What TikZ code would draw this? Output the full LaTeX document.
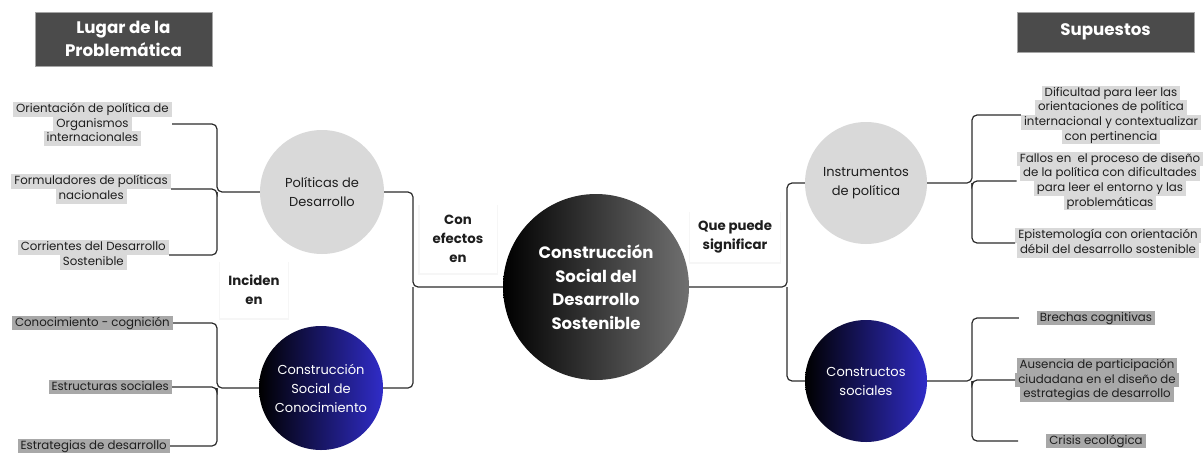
\documentclass[tikz,border=0pt]{standalone}
\usepackage{fontspec}
\setmainfont{Poppins}
\usetikzlibrary{shadows}
\definecolor{hdr}{HTML}{4B4B4B}
\definecolor{lg}{HTML}{D9D9D9}
\definecolor{dg}{HTML}{A8A8A8}
\definecolor{ln}{HTML}{2B2B2B}
\definecolor{blu}{RGB}{48,44,200}
\definecolor{cg}{HTML}{707070}
\definecolor{tx}{HTML}{1E1E1E}
\setlength{\fboxsep}{0pt}
\newcommand{\lstrut}{\rule[-4.1pt]{0pt}{14.6pt}}
\newcommand{\hlL}[1]{\colorbox{lg}{\hspace{3pt}\lstrut #1\hspace{3pt}}}
\newcommand{\hlD}[1]{\colorbox{dg}{\hspace{3pt}\lstrut #1\hspace{3pt}}}
\tikzset{
  hdrbox/.style={fill=hdr, draw=hdr!50, text=white, font=\fontsize{16.7}{23}\selectfont\bfseries, align=center, minimum width=177pt, inner sep=0pt},
  leaf/.style={inner sep=0pt, align=center, font=\fontsize{11.8}{14.6}\selectfont, text=tx},
  lcirc/.style={circle, fill=lg, inner sep=0pt, minimum size=124pt, align=center, font=\fontsize{13}{19}\selectfont, text=tx},
  bcirc/.style={circle, left color=black, right color=blu, inner sep=0pt, minimum size=124pt, align=center, font=\fontsize{13}{19}\selectfont, text=white},
  ccirc/.style={circle, left color=black, right color=cg, inner sep=0pt, minimum size=186pt, align=center, font=\fontsize{16.5}{23.5}\selectfont\bfseries, text=white},
  conn/.style={draw=ln, line width=1.2pt, rounded corners=5pt},
  tag/.style={fill=white, inner sep=0pt, align=center, font=\fontsize{13.3}{19}\selectfont\bfseries, text=tx, drop shadow={opacity=0.07, shadow xshift=0pt, shadow yshift=-1pt, shadow scale=1.03}}
}
\begin{document}
\begin{tikzpicture}[x=1pt,y=-1pt]
\useasboundingbox (0,0) rectangle (1204,455);
% headers
\node[hdrbox, minimum height=54pt] (hL) at (123.5,39) {Lugar de la\\Problemática};
\node[hdrbox, minimum height=40pt] (hR) at (1105.5,32) {Supuestos};
% circles
\node[lcirc] (pol) at (322,192) {Políticas de\\Desarrollo};
\node[bcirc] (csc) at (321,388) {Construcción\\Social de\\Conocimiento};
\node[ccirc] (cen) at (596,287) {Construcción\\Social del\\Desarrollo\\Sostenible};
\node[lcirc, minimum size=122pt] (ins) at (866,183) {Instrumentos\\de política};
\node[bcirc, minimum size=122pt] (cso) at (866,381) {Constructos\\sociales};
% left leaves
\node[leaf, anchor=east] (l1) at (172,124) {\hlL{Orientación de política de}\\\hlL{Organismos}\\\hlL{internacionales}};
\node[leaf, anchor=east] (l2) at (171,189) {\hlL{Formuladores de políticas}\\\hlL{nacionales}};
\node[leaf, anchor=east] (l3) at (169,255) {\hlL{Corrientes del Desarrollo}\\\hlL{Sostenible}};
\node[leaf, anchor=east] (l4) at (173,323) {\hlD{Conocimiento - cognición}};
\node[leaf, anchor=east] (l5) at (172,387) {\hlD{Estructuras sociales}};
\node[leaf, anchor=east] (l6) at (170,446) {\hlD{Estrategias de desarrollo}};
% right leaves
\node[leaf] (r1) at (1111,115) {\hlL{Dificultad para leer las}\\\hlL{orientaciones de política}\\\hlL{internacional y contextualizar}\\\hlL{con pertinencia}};
\node[leaf] (r2) at (1110,181) {\hlL{Fallos en\ \ el proceso de diseño}\\\hlL{de la política con dificultades}\\\hlL{para leer el entorno y las}\\\hlL{problemáticas}};
\node[leaf] (r3) at (1108,243) {\hlL{Epistemología con orientación}\\\hlL{débil del desarrollo sostenible}};
\node[leaf] (r4) at (1096,318) {\hlD{Brechas cognitivas}};
\node[leaf] (r5) at (1097,380) {\hlD{Ausencia de participación}\\\hlD{ciudadana en el diseño de}\\\hlD{estrategias de desarrollo}};
\node[leaf] (r6) at (1096,441) {\hlD{Crisis ecológica}};
% tags
\node[tag, minimum width=77pt, minimum height=68pt] (tA) at (458,239) {Con\\efectos\\en};
\node[tag, minimum width=90pt, minimum height=50pt] (tB) at (735,237) {Que puede\\significar};
\node[tag, minimum width=68pt, minimum height=56pt] (tC) at (254,290) {Inciden\\en};
% junctions
\coordinate (jL) at (413,287);
\coordinate (jR) at (787,287);
\coordinate (jP) at (217,192);
\coordinate (jC) at (217,388);
\coordinate (jI) at (972,183);
\coordinate (jS) at (972,381);
% connectors
\draw[conn] (cen.west) -- (jL) |- (pol.east);
\draw[conn] (jL) |- (csc.east);
\draw[conn] (cen.east) -- (jR) |- (ins.west);
\draw[conn] (jR) |- (cso.west);
\draw[conn] (pol.west) -- (jP) |- (l1.east);
\draw[conn] (jP) |- (l2.east);
\draw[conn] (jP) |- (l3.east);
\draw[conn] (csc.west) -- (jC) |- (l4.east);
\draw[conn] (jC) |- (l5.east);
\draw[conn] (jC) |- (l6.east);
\draw[conn] (ins.east) -- (jI) |- (r1.west);
\draw[conn] (jI) |- (r2.west);
\draw[conn] (jI) |- (r3.west);
\draw[conn] (cso.east) -- (jS) |- ([xshift=-18pt]r4.west);
\draw[conn] (jS) |- (r5.west);
\draw[conn] (jS) |- ([xshift=-28pt]r6.west);
\end{tikzpicture}
\end{document}
